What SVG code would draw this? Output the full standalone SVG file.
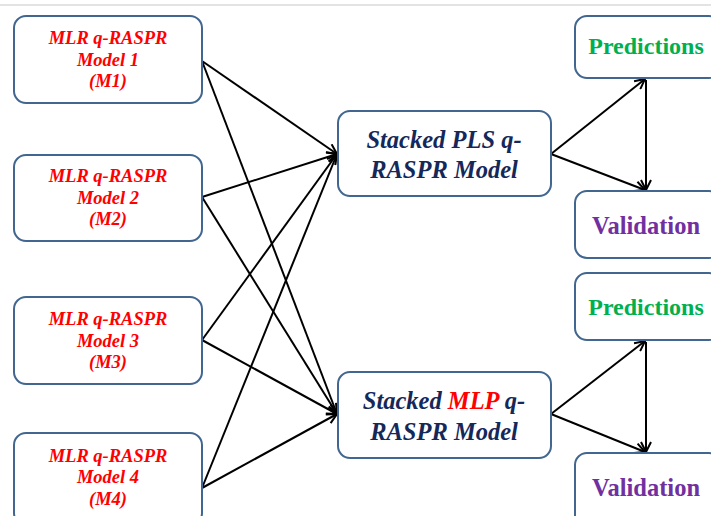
<svg xmlns="http://www.w3.org/2000/svg" width="711" height="516" viewBox="0 0 711 516">
<style>
.box{fill:#fff;stroke:#41668f;stroke-width:2}
.m{font-family:"Liberation Serif",serif;font-style:italic;font-weight:bold;font-size:18.5px;fill:#ff0000;text-anchor:middle}
.s{font-family:"Liberation Serif",serif;font-style:italic;font-weight:bold;font-size:24.5px;fill:#14285a;text-anchor:middle}
.p{font-family:"Liberation Serif",serif;font-weight:bold;font-size:24px;fill:#00b050;text-anchor:middle}
.v{font-family:"Liberation Serif",serif;font-weight:bold;font-size:24.5px;fill:#7030a0;text-anchor:middle}
.c{stroke:#000;stroke-width:2;fill:none;marker-end:url(#a)}
</style>
<defs>
<marker id="a" viewBox="0 0 12 12" refX="11" refY="6" markerWidth="12" markerHeight="12" markerUnits="userSpaceOnUse" orient="auto">
<path d="M1,1 L11,6 L1,11" fill="none" stroke="#000" stroke-width="2"/>
</marker>
</defs>
<rect width="711" height="516" fill="#fff"/>
<line x1="0" y1="5" x2="711" y2="5" stroke="#e3e3e3" stroke-width="2"/>
<g id="connectors">
<line class="c" x1="202" y1="61" x2="337" y2="154"/>
<line class="c" x1="202" y1="61" x2="337" y2="414"/>
<line class="c" x1="202" y1="197" x2="337" y2="154"/>
<line class="c" x1="202" y1="197" x2="337" y2="414"/>
<line class="c" x1="202" y1="340" x2="337" y2="154"/>
<line class="c" x1="202" y1="340" x2="337" y2="414"/>
<line class="c" x1="202" y1="488" x2="337" y2="154"/>
<line class="c" x1="202" y1="488" x2="337" y2="414"/>
<line class="c" x1="551" y1="154" x2="645" y2="79"/>
<line class="c" x1="551" y1="154" x2="645" y2="190"/>
<line class="c" x1="646" y1="80" x2="646" y2="190"/>
<line class="c" x1="551" y1="414" x2="645" y2="341"/>
<line class="c" x1="551" y1="414" x2="645" y2="452"/>
<line class="c" x1="646" y1="342" x2="646" y2="452"/>
</g>
<g id="m1"><rect class="box" x="14" y="16" width="188" height="87" rx="12"/>
<text class="m" x="108" y="44">MLR q-RASPR</text><text class="m" x="108" y="66">Model 1</text><text class="m" x="108" y="87">(M1)</text></g>
<g id="m2"><rect class="box" x="14" y="155" width="188" height="86" rx="12"/>
<text class="m" x="108" y="182">MLR q-RASPR</text><text class="m" x="108" y="204">Model 2</text><text class="m" x="108" y="225">(M2)</text></g>
<g id="m3"><rect class="box" x="14" y="297" width="188" height="87" rx="12"/>
<text class="m" x="108" y="325">MLR q-RASPR</text><text class="m" x="108" y="347">Model 3</text><text class="m" x="108" y="368">(M3)</text></g>
<g id="m4"><rect class="box" x="14" y="433" width="188" height="92" rx="12"/>
<text class="m" x="108" y="462">MLR q-RASPR</text><text class="m" x="108" y="483">Model 4</text><text class="m" x="108" y="505">(M4)</text></g>
<g id="pls"><rect class="box" x="338" y="111" width="213" height="85" rx="12"/>
<text class="s" x="444" y="148">Stacked PLS q-</text><text class="s" x="444" y="178">RASPR Model</text></g>
<g id="mlp"><rect class="box" x="338" y="372" width="213" height="86" rx="12"/>
<text class="s" x="444" y="409">Stacked <tspan fill="#ff0000">MLP</tspan> q-</text><text class="s" x="444" y="440">RASPR Model</text></g>
<g id="pred1"><rect class="box" x="575" y="16" width="146" height="62" rx="12"/>
<text class="p" x="646" y="54">Predictions</text></g>
<g id="val1"><rect class="box" x="575" y="191" width="146" height="67" rx="12"/>
<text class="v" x="646" y="234">Validation</text></g>
<g id="pred2"><rect class="box" x="575" y="273" width="146" height="67" rx="12"/>
<text class="p" x="646" y="315">Predictions</text></g>
<g id="val2"><rect class="box" x="575" y="453" width="146" height="75" rx="12"/>
<text class="v" x="646" y="496">Validation</text></g>
</svg>
